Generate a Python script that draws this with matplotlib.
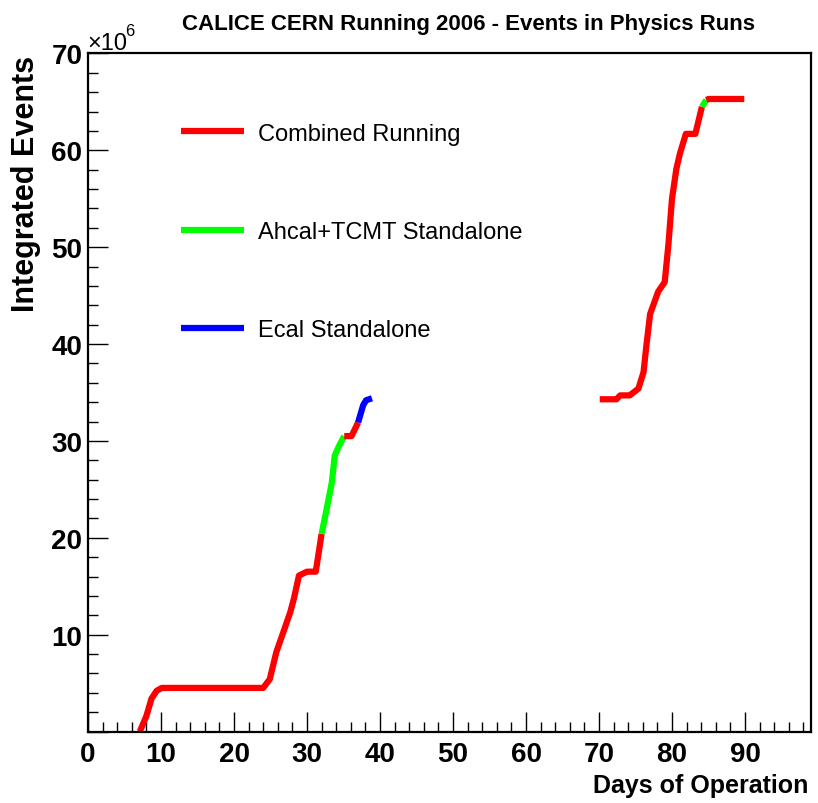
import matplotlib
matplotlib.use("Agg")
import matplotlib.pyplot as plt
from matplotlib.ticker import MultipleLocator, FuncFormatter

# integrated events (x10^6) vs days of operation, one list pair per run segment
combined1_days = [7.1, 8.0, 8.7, 9.4, 10.1, 24.0, 24.9, 25.8, 26.5, 27.7, 28.2, 28.9, 30.0, 31.2, 32.0]
combined1_events = [0.0, 1.6, 3.4, 4.2, 4.5, 4.5, 5.4, 8.2, 9.7, 12.3, 13.7, 16.1, 16.5, 16.5, 20.4]
ahcal1_days = [32.0, 32.7, 33.4, 33.8, 34.4, 35.1]
ahcal1_events = [20.4, 23.0, 25.7, 28.5, 29.5, 30.5]
combined2_days = [35.1, 36.1, 37.0]
combined2_events = [30.5, 30.5, 31.9]
ecal_days = [37.0, 37.7, 38.1, 38.9]
ecal_events = [31.9, 33.7, 34.2, 34.4]
combined3_days = [70.1, 72.4, 72.9, 74.2, 75.4, 76.1, 76.5, 77.0, 78.1, 79.0,
                  79.5, 80.0, 80.6, 81.1, 81.9, 83.2, 84.1]
combined3_events = [34.3, 34.3, 34.7, 34.7, 35.4, 37.1, 39.9, 43.1, 45.4, 46.4,
                    50.2, 55.0, 58.1, 59.7, 61.7, 61.7, 64.5]
ahcal2_days = [84.1, 84.7]
ahcal2_events = [64.5, 65.2]
combined4_days = [84.7, 85.0, 89.9]
combined4_events = [65.2, 65.3, 65.3]

labels = ["Combined Running", "Ahcal+TCMT Standalone", "Ecal Standalone"]
colors = ["#ff0000", "#00ff00", "#0000ff"]

plt.rcParams["font.family"] = ["Liberation Sans", "DejaVu Sans"]

fig = plt.figure(figsize=(8.18, 8.04), dpi=100)
W, H = 818, 804
ax = fig.add_axes([88 / W, 1 - 732.5 / H, (810.7 - 88) / W, (732.5 - 53.5) / H])

lw = 4.5
kw = dict(lw=lw, solid_capstyle="butt", solid_joinstyle="round")
red, = ax.plot(combined1_days, combined1_events, color=colors[0], **kw)
green, = ax.plot(ahcal1_days, ahcal1_events, color=colors[1], **kw)
ax.plot(combined2_days, combined2_events, color=colors[0], **kw)
blue, = ax.plot(ecal_days, ecal_events, color=colors[2], **kw)
ax.plot(combined3_days, combined3_events, color=colors[0], **kw)
ax.plot(ahcal2_days, ahcal2_events, color=colors[1], **kw)
ax.plot(combined4_days, combined4_events, color=colors[0], **kw)

ax.set_xlim(0, 99)
ax.set_ylim(0, 70.1)
ax.xaxis.set_major_locator(MultipleLocator(10))
ax.xaxis.set_minor_locator(MultipleLocator(2))
ax.yaxis.set_major_locator(MultipleLocator(10))
ax.yaxis.set_minor_locator(MultipleLocator(2))
ax.yaxis.set_major_formatter(FuncFormatter(lambda v, p: "" if v == 0 else f"{v:.0f}"))

for s in ax.spines.values():
    s.set_linewidth(1.6)
ax.tick_params(which="both", direction="in", top=False, right=False, width=1.0)
ax.tick_params(which="major", length=14.5)
ax.tick_params(which="minor", length=7.2)
ax.tick_params(axis="x", which="major", pad=7)
ax.tick_params(axis="y", which="major", pad=4)
for t in ax.get_xticklabels() + ax.get_yticklabels():
    t.set_fontsize(20)
    t.set_fontweight("bold")

fig.text(468 / W, 1 - 30 / H, "CALICE CERN Running 2006 - Events in Physics Runs",
         ha="center", va="baseline", fontsize=16, fontweight="bold")
fig.text(808 / W, 1 - 793 / H, "Days of Operation", ha="right", va="baseline",
         fontsize=18, fontweight="bold")
fig.text(26 / W, 1 - 56 / H, "Integrated Events", ha="center", va="top",
         rotation=90, fontsize=22, fontweight="bold")
fig.text(87 / W, 1 - 50 / H, "\u00d710", ha="left", va="baseline", fontsize=17)
fig.text(125 / W, 1 - 36 / H, "6", ha="left", va="baseline", fontsize=12)

ax.legend([red, green, blue], labels, frameon=False, fontsize=17,
          loc="center left", bbox_to_anchor=(159.6 / W, 1 - 233 / H),
          bbox_transform=fig.transFigure, handlelength=2.67,
          handletextpad=0.6, labelspacing=3.23, borderpad=0.4)

fig.savefig("out.png", dpi=100)
